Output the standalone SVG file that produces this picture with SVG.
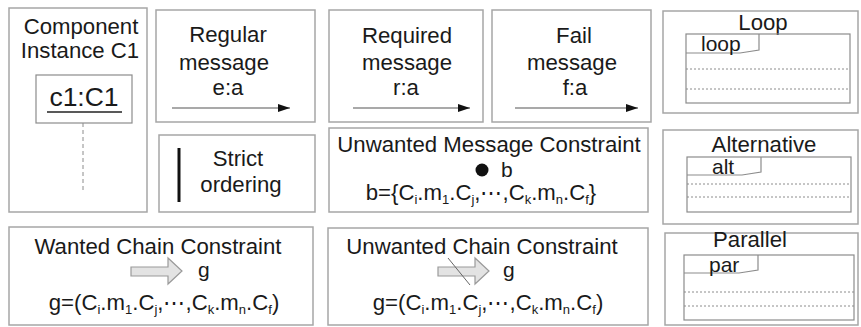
<svg xmlns="http://www.w3.org/2000/svg" width="861" height="327" viewBox="0 0 861 327">
<defs>
<style>
.box{fill:#fff;stroke:#a6a6a6;stroke-width:1.5}
.in{fill:none;stroke:#8c8c8c;stroke-width:1.2}
.dash{fill:none;stroke:#8c8c8c;stroke-width:1;stroke-dasharray:2,2}
.t{font-family:"Liberation Sans",Arial,sans-serif;font-size:22.2px;fill:#1a1a1a;text-anchor:middle}
.ts{font-family:"Liberation Sans",Arial,sans-serif;font-size:21px;fill:#1a1a1a}
.sub{font-size:13px}
.msg{stroke:#555;stroke-width:1.2;fill:none}
.blk{fill:#e3e3e3;stroke:#9a9a9a;stroke-width:1.2}
</style>
<marker id="ah" viewBox="0 0 12 8" refX="12" refY="4" markerWidth="12" markerHeight="8" markerUnits="userSpaceOnUse" orient="auto">
<path d="M0,0 L12,4 L0,8 Z" fill="#111"/>
</marker>
</defs>
<rect width="861" height="327" fill="#fff"/>

<g id="component-instance">
<rect class="box" x="9" y="8" width="138" height="204"/>
<text class="t" x="81" y="34">Component</text>
<text class="t" x="80" y="58">Instance C1</text>
<rect class="in" x="36" y="75" width="96" height="48"/>
<text class="t" x="84" y="106" style="font-size:26.5px">c1:C1</text>
<line x1="47" y1="112" x2="122" y2="112" stroke="#222" stroke-width="1.6"/>
<line class="dash" x1="83" y1="123" x2="83" y2="190" style="stroke-dasharray:4,3"/>
</g>

<g id="regular-message">
<rect class="box" x="156" y="10" width="159" height="112"/>
<text class="t" x="228" y="42">Regular</text>
<text class="t" x="224" y="70">message</text>
<text class="t" x="228" y="95">e:a</text>
</g>

<g id="strict-ordering">
<rect class="box" x="159" y="135" width="156" height="77"/>
<line x1="179" y1="148" x2="179" y2="202" stroke="#111" stroke-width="3"/>
<text class="t" x="238" y="166">Strict</text>
<text class="t" x="241" y="192">ordering</text>
</g>

<g id="required-message">
<rect class="box" x="329" y="10" width="154" height="112"/>
<text class="t" x="407" y="43">Required</text>
<text class="t" x="407" y="70">message</text>
<text class="t" x="406" y="95">r:a</text>
</g>

<g id="fail-message">
<rect class="box" x="492" y="10" width="159" height="112"/>
<text class="t" x="574" y="43">Fail</text>
<text class="t" x="572" y="70">message</text>
<text class="t" x="575" y="95">f:a</text>
</g>

<g id="unwanted-message-constraint">
<rect class="box" x="329" y="128" width="319" height="84"/>
<text class="t" x="489" y="152">Unwanted Message Constraint</text>
<circle cx="482" cy="170" r="6.5" fill="#111"/>
<text class="ts" x="501" y="177">b</text>
<text class="t" x="481" y="200">b={C<tspan class="sub" dy="4">i</tspan><tspan dy="-4">.m</tspan><tspan class="sub" dy="4">1</tspan><tspan dy="-4">.C</tspan><tspan class="sub" dy="4">j</tspan><tspan dy="-4">,⋯,C</tspan><tspan class="sub" dy="4">k</tspan><tspan dy="-4">.m</tspan><tspan class="sub" dy="4">n</tspan><tspan dy="-4">.C</tspan><tspan class="sub" dy="4">f</tspan><tspan dy="-4">}</tspan></text>
</g>

<g id="loop">
<rect class="box" x="663" y="11" width="195" height="102"/>
<text class="t" x="763" y="30">Loop</text>
<rect class="in" x="686" y="34" width="164" height="69"/>
<path class="in" d="M686,53 L740,53 L759,50 L759,34"/>
<text class="ts" x="701" y="51">loop</text>
<line class="dash" x1="686" y1="69" x2="850" y2="69"/>
<line class="dash" x1="686" y1="89" x2="850" y2="89"/>
</g>

<g id="alternative">
<rect class="box" x="663" y="130" width="195" height="94"/>
<text class="t" x="764" y="152">Alternative</text>
<rect class="in" x="687" y="157" width="164" height="55"/>
<path class="in" d="M687,175 L742,175 L761,172 L761,157"/>
<text class="ts" x="712" y="174">alt</text>
<line class="dash" x1="687" y1="184" x2="851" y2="184"/>
<line class="dash" x1="687" y1="197" x2="851" y2="197"/>
</g>

<g id="wanted-chain-constraint">
<rect class="box" x="9" y="227" width="304" height="98"/>
<text class="t" x="158" y="254">Wanted Chain Constraint</text>
<path class="blk" d="M131,267 L168,267 L168,258 L182,271 L168,284 L168,276 L131,276 Z"/>
<text class="ts" x="198" y="277">g</text>
<text class="t" x="164" y="310">g=(C<tspan class="sub" dy="4">i</tspan><tspan dy="-4">.m</tspan><tspan class="sub" dy="4">1</tspan><tspan dy="-4">.C</tspan><tspan class="sub" dy="4">j</tspan><tspan dy="-4">,⋯,C</tspan><tspan class="sub" dy="4">k</tspan><tspan dy="-4">.m</tspan><tspan class="sub" dy="4">n</tspan><tspan dy="-4">.C</tspan><tspan class="sub" dy="4">f</tspan><tspan dy="-4">)</tspan></text>
</g>

<g id="unwanted-chain-constraint">
<rect class="box" x="328" y="228" width="320" height="97"/>
<text class="t" x="482" y="254">Unwanted Chain Constraint</text>
<path class="blk" d="M438,267 L475,267 L475,258 L489,271 L475,284 L475,276 L438,276 Z"/>
<line x1="448" y1="258" x2="470" y2="285" stroke="#666" stroke-width="1"/>
<text class="ts" x="503" y="277">g</text>
<text class="t" x="488" y="310">g=(C<tspan class="sub" dy="4">i</tspan><tspan dy="-4">.m</tspan><tspan class="sub" dy="4">1</tspan><tspan dy="-4">.C</tspan><tspan class="sub" dy="4">j</tspan><tspan dy="-4">,⋯,C</tspan><tspan class="sub" dy="4">k</tspan><tspan dy="-4">.m</tspan><tspan class="sub" dy="4">n</tspan><tspan dy="-4">.C</tspan><tspan class="sub" dy="4">f</tspan><tspan dy="-4">)</tspan></text>
</g>

<g id="parallel">
<rect class="box" x="665" y="233" width="193" height="92"/>
<text class="t" x="750" y="247">Parallel</text>
<rect class="in" x="684" y="255" width="170" height="65"/>
<path class="in" d="M684,273 L739,273 L758,270 L758,255"/>
<text class="ts" x="709" y="272">par</text>
<line class="dash" x1="684" y1="292" x2="854" y2="292"/>
<line class="dash" x1="684" y1="306" x2="854" y2="306"/>
</g>

<g id="connectors">
<line class="msg" x1="172" y1="108" x2="290" y2="108" marker-end="url(#ah)"/>
<line class="msg" x1="353" y1="108" x2="470" y2="108" marker-end="url(#ah)"/>
<line class="msg" x1="515" y1="108" x2="638" y2="108" marker-end="url(#ah)"/>
</g>
</svg>
